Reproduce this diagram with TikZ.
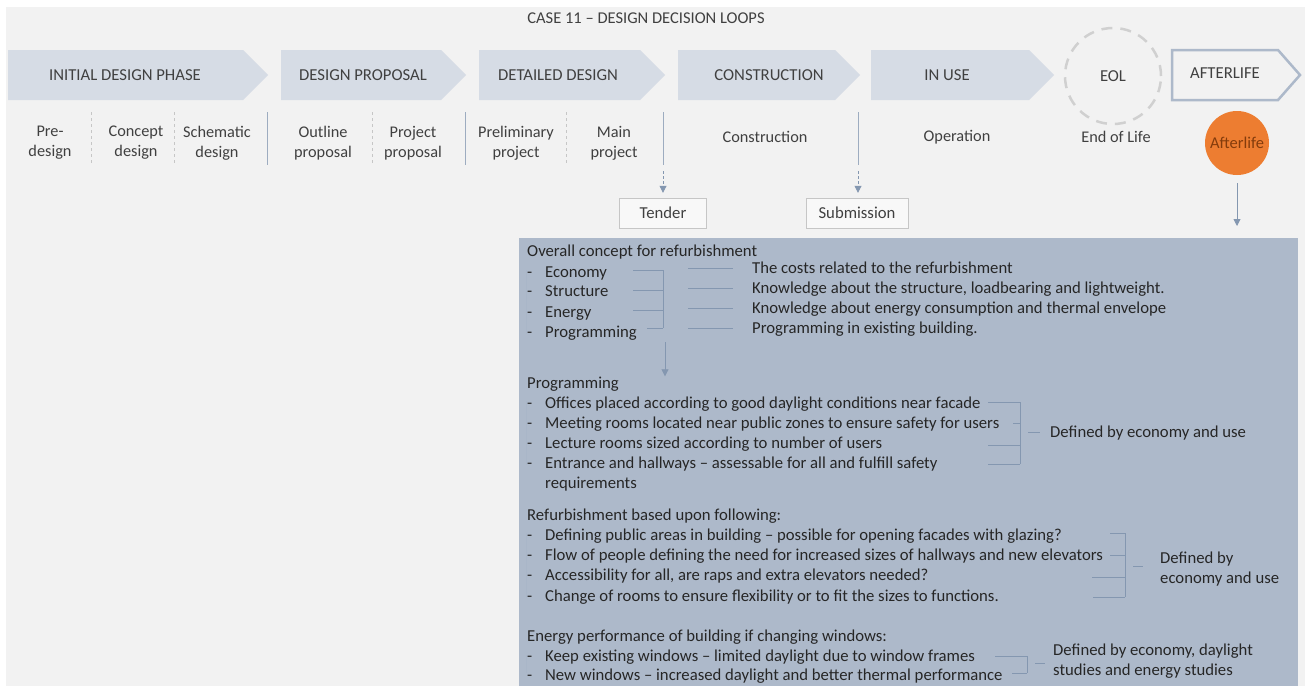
\documentclass[tikz,border=0pt]{standalone}
\usepackage{fontspec}
\setmainfont{Carlito}
\usetikzlibrary{arrows.meta, positioning, calc}

\definecolor{bgray}{HTML}{F2F2F2}
\definecolor{chevfill}{HTML}{D6DCE5}
\definecolor{boxfill}{HTML}{ADB9CA}
\definecolor{lineblue}{HTML}{8497B0}
\definecolor{txtgray}{HTML}{404040}
\definecolor{boxtxt}{HTML}{262626}
\definecolor{orangefill}{HTML}{ED7D31}
\definecolor{orangetxt}{HTML}{843C0C}
\definecolor{eolgray}{HTML}{D0D0D0}

\newcommand{\lidash}{\makebox[18pt][l]{-}}

\begin{document}
\begin{tikzpicture}[x=1pt, y=-1pt,
  phase/.style={font=\fontsize{16.7}{19}\selectfont, text=txtgray, inner sep=0pt},
  sublbl/.style={font=\fontsize{16.3}{20}\selectfont, text=txtgray, align=center, inner sep=0pt},
  item/.style={anchor=base west, inner sep=0pt, font=\fontsize{16.7}{20}\selectfont, text=boxtxt},
  sepline/.style={draw=lineblue!80, line width=0.8pt},
  sepdash/.style={draw=gray!45, line width=0.8pt, dash pattern=on 3pt off 3pt},
  brk/.style={draw=lineblue, line width=0.7pt},
  arr/.style={draw=lineblue, line width=0.8pt, -{Triangle[length=7pt,width=7pt]}},
  arrdash/.style={arr, dash pattern=on 3pt off 2pt},
  milestone/.style={draw=gray!45, fill=white!50!bgray, minimum height=30pt, inner sep=0pt,
    font=\fontsize{16.7}{20}\selectfont, text=txtgray}
]
  % Canvas
  \useasboundingbox (0,0) rectangle (1305,686);
  \fill[white] (0,0) rectangle (1305,686);
  \fill[bgray] (6,7) rectangle (1305,686);

  % Title
  \node[font=\fontsize{16.5}{19}\selectfont, text=txtgray] (title) at (646,18) {CASE 11 – DESIGN DECISION LOOPS};

  % Phase arrows
  \foreach \xa/\xb/\xt/\nm/\txt in {8/268/125/initial/INITIAL DESIGN PHASE,
      281/466/363/proposal/DESIGN PROPOSAL, 479/665/558/detailed/DETAILED DESIGN,
      678/860/769/constr/CONSTRUCTION, 871/1054/947/inuse/IN USE} {
    \fill[chevfill] (\xa,50) -- ({\xb-25},50) -- (\xb,75) -- ({\xb-25},100) -- (\xa,100) -- cycle;
    \node[phase] (\nm) at (\xt,75) {\txt};
  }

  % End of life and afterlife
  \node[circle, draw=eolgray, line width=2.5pt, dash pattern=on 11pt off 8pt, minimum size=96pt,
    font=\fontsize{16.7}{19}\selectfont, text=txtgray] (eol) at (1113,76) {EOL};
  \draw[boxfill, line width=2.5pt, fill=bgray] (1172,50) -- (1278,50) -- (1300,75) -- (1278,100) -- (1172,100) -- cycle;
  \node[phase] (after) at (1225,73) {AFTERLIFE};

  % Sub phases
  \foreach \x/\nm/\txt in {50/pre/{Pre-\\design}, 136/concept/{Concept\\design},
      217/schem/{Schematic\\design}, 323/outline/{Outline\\proposal}, 413/project/{Project\\proposal},
      516/prelim/{Preliminary\\project}, 614/main/{Main\\project}} {
    \node[sublbl] (\nm) at (\x,143) {\txt};
  }
  \node[sublbl] (constrsub) at (765,137) {Construction};
  \node[sublbl] (operation) at (957,137) {Operation};
  \node[sublbl] (endlife) at (1116,137) {End of Life};
  \node[circle, fill=orangefill, minimum size=64pt, inner sep=0pt, text=orangetxt,
    font=\fontsize{16.5}{19}\selectfont] (afterdot) at (1237,143) {Afterlife};

  % Separators
  \foreach \x in {267,465,663,858} \draw[sepline] (\x,112) -- (\x,165);
  \foreach \x in {91,174,372,566} \draw[sepdash] (\x,112) -- (\x,165);

  % Milestones
  \node[milestone, minimum width=87pt] (tender) at (663,213) {Tender};
  \node[milestone, minimum width=102pt] (submit) at (857,213) {Submission};
  \coordinate (tsrc) at (663,171);
  \coordinate (ssrc) at (858,171);
  \draw[arrdash] (tsrc) -- ([yshift=5pt]tender.north);
  \draw[arrdash] (ssrc) -- ([yshift=5pt]submit.north -| ssrc);

  % Refurbishment box
  \node[fill=boxfill, minimum width=779pt, minimum height=448pt, inner sep=0pt, anchor=north west] (box) at (519,238) {};
  \draw[arr, shorten <=8pt, shorten >=12pt] (afterdot.south) -- (afterdot.south |- box.north);

  % Overall concept
  \node[item] (concept) at (527,256) {Overall concept for refurbishment};
  \foreach \y/\nm/\txt in {277/eco/Economy, 296/struct/Structure, 317/energy/Energy, 337/prog/Programming} {
    \node[item] (\nm) at (527,\y) {\lidash\txt};
  }
  \foreach \y/\nm/\txt in {273/costs/The costs related to the refurbishment,
      293/knowstr/{Knowledge about the structure, loadbearing and lightweight.},
      313/knowen/Knowledge about energy consumption and thermal envelope,
      333/progex/Programming in existing building.} {
    \node[item] (\nm) at (752,\y) {\txt};
    \draw[brk] (688,\y-5) -- (733,\y-5);
  }
  \draw[brk] (633,270) -- (663,270) (633,290) -- (663,290) (633,310) -- (663,310) (647,328) -- (663,328);
  \draw[brk] (663,270) -- (663,328);
  \draw[lineblue!70, line width=0.5pt] (526.5,270) -- (526.5,334);

  % Programming
  \coordinate (progsrc) at (665,342);
  \node[item] (proghead) at (527,388) {Programming};
  \draw[arr] (progsrc) -- (proghead.north -| progsrc);
  \foreach \y/\nm/\txt in {408/off/Offices placed according to good daylight conditions near facade,
      428/meet/Meeting rooms located near public zones to ensure safety for users,
      448/lect/Lecture rooms sized according to number of users,
      468/entr/Entrance and hallways – assessable for all and fulfill safety} {
    \node[item] (\nm) at (527,\y) {\lidash\txt};
  }
  \node[item] (req) at (545,488) {requirements};
  \draw[lineblue!70, line width=0.5pt] (526.5,401) -- (526.5,465);
  \draw[brk] (988,402) -- (1020,402) (1013,423) -- (1020,423) (988,445) -- (1020,445) (988,464) -- (1020,464);
  \draw[brk] (1020,402) -- (1020,464) (1028,432) -- (1040,432);
  \node[item] (defuse) at (1050,437) {Defined by economy and use};

  % Refurbishment
  \node[item] (refhead) at (527,520) {Refurbishment based upon following:};
  \foreach \y/\nm/\txt in {540/pub/Defining public areas in building – possible for opening facades with glazing?,
      560/flow/Flow of people defining the need for increased sizes of hallways and new elevators,
      580/access/{Accessibility for all, are raps and extra elevators needed?},
      601/change/Change of rooms to ensure flexibility or to fit the sizes to functions.} {
    \node[item] (\nm) at (527,\y) {\lidash\txt};
  }
  \draw[lineblue!70, line width=0.5pt] (526.5,533) -- (526.5,598);
  \draw[brk] (1110,533) -- (1125,533) (1110,555) -- (1125,555) (1092,577) -- (1125,577) (1093,597) -- (1125,597);
  \draw[brk] (1125,533) -- (1125,597) (1133,566) -- (1143,566);
  \node[item] (defby) at (1160,563) {Defined by};
  \node[item] (ecouse) at (1160,583) {economy and use};

  % Energy performance
  \node[item] (enhead) at (527,641) {Energy performance of building if changing windows:};
  \node[item] (keep) at (527,661) {\lidash Keep existing windows – limited daylight due to window frames};
  \node[item] (new) at (527,680) {\lidash New windows – increased daylight and better thermal performance};
  \draw[lineblue!70, line width=0.5pt] (526.5,655) -- (526.5,673);
  \draw[brk] (995,656) -- (1027,656) (1012,673) -- (1027,673);
  \draw[brk] (1027,656) -- (1027,673) (1035,663) -- (1045,663);
  \node[item] (defstud) at (1053,655) {Defined by economy, daylight};
  \node[item] (studies) at (1053,675) {studies and energy studies};
\end{tikzpicture}
\end{document}
